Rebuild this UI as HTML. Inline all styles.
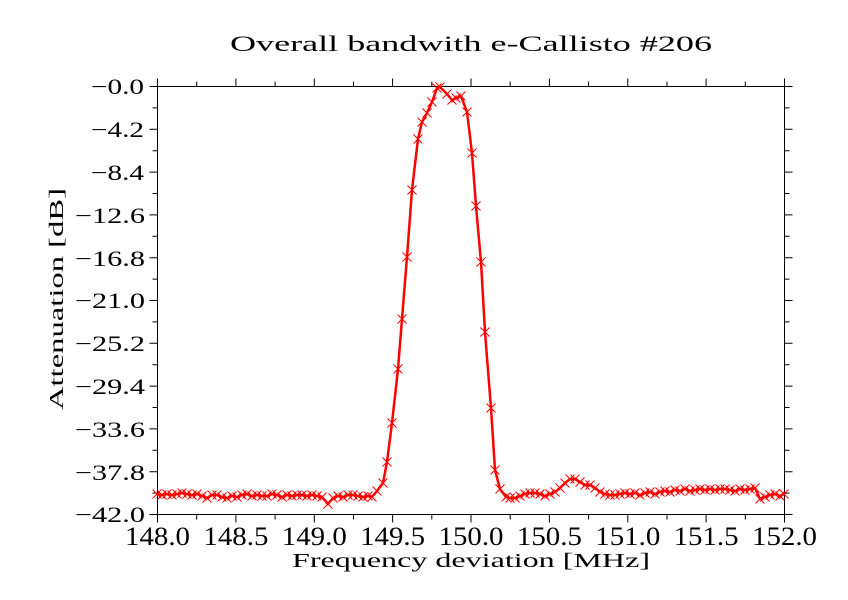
<!DOCTYPE html>
<html>
<head>
<meta charset="utf-8">
<style>
html,body{margin:0;padding:0;background:#fff;}
svg{display:block;}
text{font-family:"Liberation Serif",serif;fill:#000;}
</style>
</head>
<body>
<svg width="848" height="600" viewBox="0 0 848 600" xmlns="http://www.w3.org/2000/svg">
<defs>
<marker id="xm" markerUnits="userSpaceOnUse" markerWidth="12" markerHeight="12" refX="5" refY="5" overflow="visible">
<path d="M0.5 0.5L9.5 9.5M9.5 0.5L0.5 9.5" stroke="#ff0000" stroke-width="1" fill="none"/>
</marker>
</defs>
<rect width="848" height="600" fill="#fff"/>

<!-- title -->
<text x="230" y="51" font-size="22" textLength="482" lengthAdjust="spacingAndGlyphs">Overall bandwith e-Callisto #206</text>

<!-- axes box -->
<rect x="157.5" y="86.5" width="627" height="428" fill="none" stroke="#000" stroke-width="1"/>

<!-- ticks -->
<g stroke="#000" stroke-width="1">
<path d="M157.5 514.5v8M235.9 514.5v8M314.3 514.5v8M392.6 514.5v8M471 514.5v8M549.4 514.5v8M627.8 514.5v8M706.1 514.5v8M784.5 514.5v8"/>
<path d="M157.5 86.5v-8M235.9 86.5v-8M314.3 86.5v-8M392.6 86.5v-8M471 86.5v-8M549.4 86.5v-8M627.8 86.5v-8M706.1 86.5v-8M784.5 86.5v-8"/>
<path d="M196.7 514.5v5M275.1 514.5v5M353.5 514.5v5M431.8 514.5v5M510.2 514.5v5M588.6 514.5v5M667 514.5v5M745.3 514.5v5"/>
<path d="M196.7 86.5v-5M275.1 86.5v-5M353.5 86.5v-5M431.8 86.5v-5M510.2 86.5v-5M588.6 86.5v-5M667 86.5v-5M745.3 86.5v-5"/>
<path d="M157.5 86.5h-8M157.5 129.3h-8M157.5 172.1h-8M157.5 214.9h-8M157.5 257.7h-8M157.5 300.5h-8M157.5 343.3h-8M157.5 386.1h-8M157.5 428.9h-8M157.5 471.7h-8M157.5 514.5h-8"/>
<path d="M784.5 86.5h8M784.5 129.3h8M784.5 172.1h8M784.5 214.9h8M784.5 257.7h8M784.5 300.5h8M784.5 343.3h8M784.5 386.1h8M784.5 428.9h8M784.5 471.7h8M784.5 514.5h8"/>
<path d="M157.5 107.9h-5M157.5 150.7h-5M157.5 193.5h-5M157.5 236.3h-5M157.5 279.1h-5M157.5 321.9h-5M157.5 364.7h-5M157.5 407.5h-5M157.5 450.3h-5M157.5 493.1h-5"/>
<path d="M784.5 107.9h5M784.5 150.7h5M784.5 193.5h5M784.5 236.3h5M784.5 279.1h5M784.5 321.9h5M784.5 364.7h5M784.5 407.5h5M784.5 450.3h5M784.5 493.1h5"/>
</g>

<!-- y tick labels -->
<g font-size="22">
<text x="91" y="94" textLength="53" lengthAdjust="spacingAndGlyphs">−0.0</text>
<text x="91" y="137" textLength="53" lengthAdjust="spacingAndGlyphs">−4.2</text>
<text x="91" y="180" textLength="53" lengthAdjust="spacingAndGlyphs">−8.4</text>
<text x="75" y="223" textLength="70" lengthAdjust="spacingAndGlyphs">−12.6</text>
<text x="75" y="266" textLength="70" lengthAdjust="spacingAndGlyphs">−16.8</text>
<text x="75" y="308" textLength="70" lengthAdjust="spacingAndGlyphs">−21.0</text>
<text x="75" y="351" textLength="70" lengthAdjust="spacingAndGlyphs">−25.2</text>
<text x="75" y="394" textLength="70" lengthAdjust="spacingAndGlyphs">−29.4</text>
<text x="75" y="437" textLength="70" lengthAdjust="spacingAndGlyphs">−33.6</text>
<text x="75" y="480" textLength="70" lengthAdjust="spacingAndGlyphs">−37.8</text>
<text x="75" y="522" textLength="70" lengthAdjust="spacingAndGlyphs">−42.0</text>
</g>

<!-- x tick labels -->
<g font-size="26">
<text x="125" y="545" textLength="65" lengthAdjust="spacingAndGlyphs">148.0</text>
<text x="203.4" y="545" textLength="65" lengthAdjust="spacingAndGlyphs">148.5</text>
<text x="281.8" y="545" textLength="65" lengthAdjust="spacingAndGlyphs">149.0</text>
<text x="360.1" y="545" textLength="65" lengthAdjust="spacingAndGlyphs">149.5</text>
<text x="438.5" y="545" textLength="65" lengthAdjust="spacingAndGlyphs">150.0</text>
<text x="516.9" y="545" textLength="65" lengthAdjust="spacingAndGlyphs">150.5</text>
<text x="595.3" y="545" textLength="65" lengthAdjust="spacingAndGlyphs">151.0</text>
<text x="673.6" y="545" textLength="65" lengthAdjust="spacingAndGlyphs">151.5</text>
<text x="752" y="545" textLength="65" lengthAdjust="spacingAndGlyphs">152.0</text>
</g>

<!-- axis titles -->
<text x="292" y="567" font-size="20" textLength="358" lengthAdjust="spacingAndGlyphs">Frequency deviation [MHz]</text>
<text transform="translate(63,410) rotate(-90)" font-size="20" textLength="222" lengthAdjust="spacingAndGlyphs">Attenuation [dB]</text>

<!-- data -->
<polyline fill="none" stroke="#ff0000" stroke-width="2.5" stroke-linejoin="round"
marker-start="url(#xm)" marker-mid="url(#xm)" marker-end="url(#xm)"
points="157,494 162,495 167,494 172,495 177,494 182,493 187,494 192,495 197,494 202,496 207,498 212,495 217,495 222,497 227,498 232,496 237,497 242,495 247,494 252,496 257,495 262,496 267,496 272,494 277,495 282,497 287,495 292,496 297,495 302,495 307,496 312,495 317,496 322,497 328,504 333,498 338,496 343,497 348,495 353,495 358,496 363,497 368,496 372,497 377,491 383,483 387,462 392,423 398,369 402,319 407,257 412,190 418,139 422,122 427,113 432,102 437,88 440,87 447,94 452,100 456,98 461,96 467,112 472,153 476,206 481,262 485,332 491,408 495,470 500,489 506,497 510,498 515,498 520,496 525,494 530,493 535,493 540,494 545,496 550,494 555,492 560,488 565,483 570,479 575,479 580,482 585,485 590,485 595,488 600,492 605,494 610,495 615,495 620,494 625,493 630,494 635,493 640,495 645,493 650,492 655,494 660,492 665,491 670,492 675,490 680,491 685,489 690,491 695,490 700,489 705,490 710,489 715,490 720,489 725,489 730,490 735,491 740,489 745,490 750,489 755,488 760,499 765,497 770,495 775,494 780,496 784,494"/>
</svg>
</body>
</html>
